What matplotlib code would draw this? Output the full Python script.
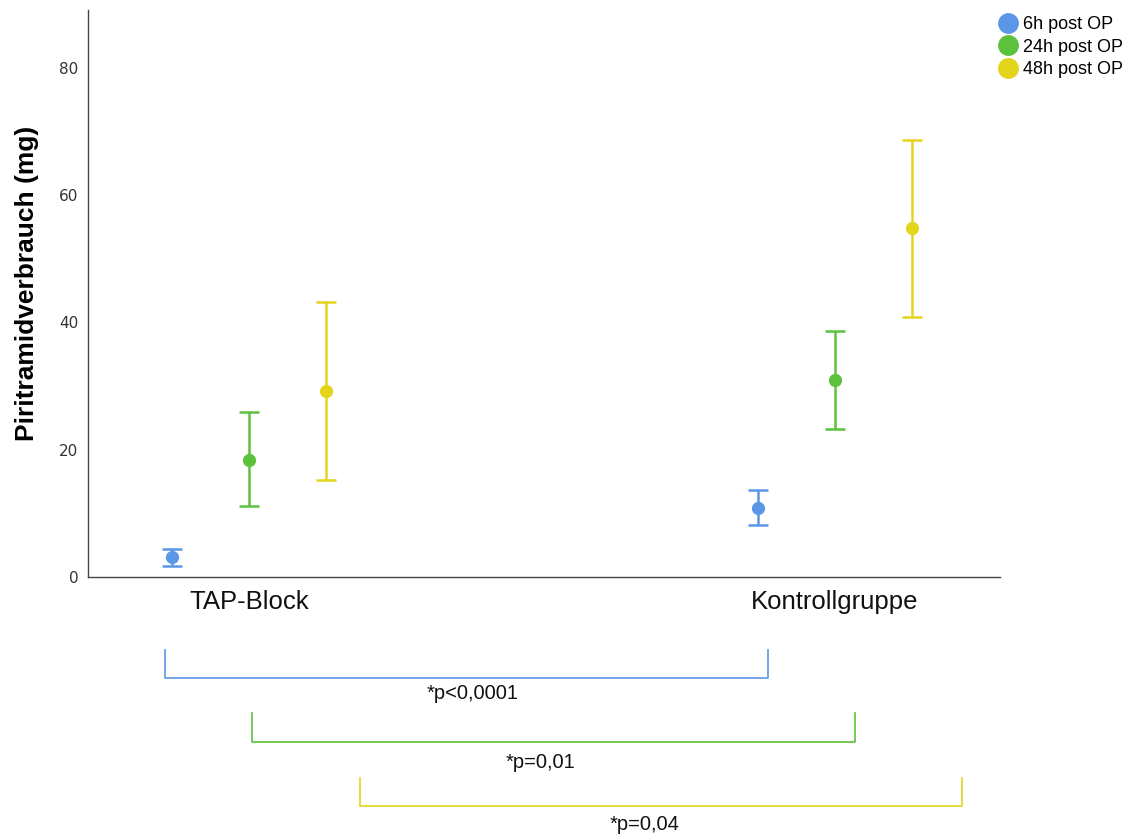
import matplotlib
matplotlib.use("Agg")
import matplotlib.pyplot as plt
from matplotlib.lines import Line2D
import numpy as np

groups = ["TAP-Block", "Kontrollgruppe"]
series = ["6h post OP", "24h post OP", "48h post OP"]
colors = ["#5b97e6", "#5cc13c", "#e3d41c"]
means = {
    "6h post OP":  [3.1, 10.8],
    "24h post OP": [18.4, 31.0],
    "48h post OP": [29.2, 54.9],
}
lower = {
    "6h post OP":  [1.7, 8.2],
    "24h post OP": [11.2, 23.3],
    "48h post OP": [15.3, 40.9],
}
upper = {
    "6h post OP":  [4.4, 13.7],
    "24h post OP": [25.9, 38.7],
    "48h post OP": [43.2, 68.6],
}
pvalues = ["*p<0,0001", "*p=0,01", "*p=0,04"]
yticks = [0, 20, 40, 60, 80]

fig = plt.figure(figsize=(11.45, 8.38), dpi=100)
W, H = 1145, 838
ax = fig.add_axes([88 / W, 1 - 577 / H, (1000 - 88) / W, (577 - 10) / H])

offsets = [-0.131, 0.0, 0.131]
xg = np.arange(len(groups))
for s, c, off in zip(series, colors, offsets):
    m = np.array(means[s])
    lo = m - np.array(lower[s])
    hi = np.array(upper[s]) - m
    ax.errorbar(xg + off, m, yerr=[lo, hi], fmt="o", color=c, ecolor=c,
                markersize=8.5, elinewidth=1.8, capsize=7.5, capthick=1.8)

ax.set_xlim(-0.275, 1.282)
ax.set_ylim(0, 89.1)
ax.set_yticks(yticks)
ax.set_yticklabels([str(t) for t in yticks], fontsize=11, color="#333333",
                   family="DejaVu Sans")
ax.set_xticks(xg)
ax.set_xticklabels(groups, fontsize=18.5, family="Liberation Sans", color="#111111")
ax.tick_params(axis="y", length=0, pad=7)
ax.tick_params(axis="x", length=0, pad=9)
for sp in ["top", "right"]:
    ax.spines[sp].set_visible(False)
for sp in ["left", "bottom"]:
    ax.spines[sp].set_color("#444444")
    ax.spines[sp].set_linewidth(1.0)
ax.set_ylabel("Piritramidverbrauch (mg)", fontsize=19, fontweight="bold",
              family="Liberation Sans")
ax.yaxis.set_label_coords(-0.054, 0.518)

handles = [Line2D([], [], marker="o", linestyle="none", color=c, markersize=14)
           for c in colors]
fig.legend(handles, series, loc="upper left", bbox_to_anchor=(991 / W, 1 - 9 / H),
           frameon=False, prop={"family": "Liberation Sans", "size": 13},
           handletextpad=0.25, labelspacing=0.3, borderaxespad=0, handlelength=1.1)

# significance brackets (pixel positions from the reference)
brackets = [(165, 768, 650, 678, 473, 693), (252, 855, 713, 742, 540, 762),
            (360, 962, 778, 806, 645, 824)]
for (x0, x1, yt, yb, tx, ty), c, p in zip(brackets, colors, pvalues):
    xs = np.array([x0, x0, x1, x1]) / W
    ys = 1 - np.array([yt, yb, yb, yt]) / H
    fig.add_artist(Line2D(xs, ys, color=c, linewidth=1.2, transform=fig.transFigure))
    fig.text(tx / W, 1 - ty / H, p, ha="center", va="center", fontsize=14.5,
             family="Liberation Sans", color="#111111")

fig.savefig("out.png", dpi=100)
